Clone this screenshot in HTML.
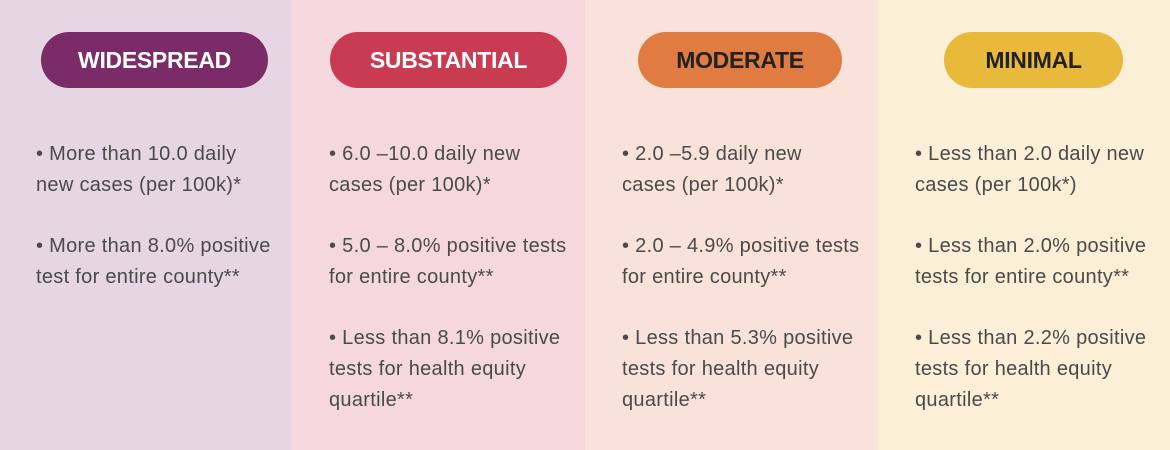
<!DOCTYPE html>
<html><head><style>
body{margin:0;width:1170px;height:450px;overflow:hidden;font-family:"Liberation Sans",sans-serif;}
.col{position:absolute;top:0;height:450px;}
.pill{position:absolute;top:32px;height:56px;border-radius:28px;color:#fff;font-weight:bold;font-size:23px;display:flex;align-items:center;justify-content:center;letter-spacing:-0.3px;}
.t{position:absolute;font-size:20px;line-height:31px;color:#4a4a4a;letter-spacing:0.3px;white-space:nowrap;}
</style></head><body>
<div class="col" style="left:0;width:291px;background:#e6d5e2"></div>
<div class="col" style="left:291px;width:294px;background:#f4d8de"></div>
<div class="col" style="left:585px;width:293px;background:#f8e2da"></div>
<div class="col" style="left:878px;width:292px;background:#fbefd7"></div>

<div class="pill" style="left:41px;width:227px;background:#7b2b67">WIDESPREAD</div>
<div class="pill" style="left:330px;width:237px;background:#c93b53">SUBSTANTIAL</div>
<div class="pill" style="left:638px;width:204px;background:#e07b42;color:#222">MODERATE</div>
<div class="pill" style="left:944px;width:179px;background:#e8b93a;color:#222">MINIMAL</div>

<div class="t" style="left:36px;top:139px">• More than 10.0 daily<br>new cases (per 100k)*</div>
<div class="t" style="left:36px;top:231px">• More than 8.0% positive<br>test for entire county**</div>

<div class="t" style="left:329px;top:139px">• 6.0 –10.0 daily new<br>cases (per 100k)*</div>
<div class="t" style="left:329px;top:231px">• 5.0 – 8.0% positive tests<br>for entire county**</div>
<div class="t" style="left:329px;top:323px">• Less than 8.1% positive<br>tests for health equity<br>quartile**</div>

<div class="t" style="left:622px;top:139px">• 2.0 –5.9 daily new<br>cases (per 100k)*</div>
<div class="t" style="left:622px;top:231px">• 2.0 – 4.9% positive tests<br>for entire county**</div>
<div class="t" style="left:622px;top:323px">• Less than 5.3% positive<br>tests for health equity<br>quartile**</div>

<div class="t" style="left:915px;top:139px">• Less than 2.0 daily new<br>cases (per 100k*)</div>
<div class="t" style="left:915px;top:231px">• Less than 2.0% positive<br>tests for entire county**</div>
<div class="t" style="left:915px;top:323px">• Less than 2.2% positive<br>tests for health equity<br>quartile**</div>
</body></html>
